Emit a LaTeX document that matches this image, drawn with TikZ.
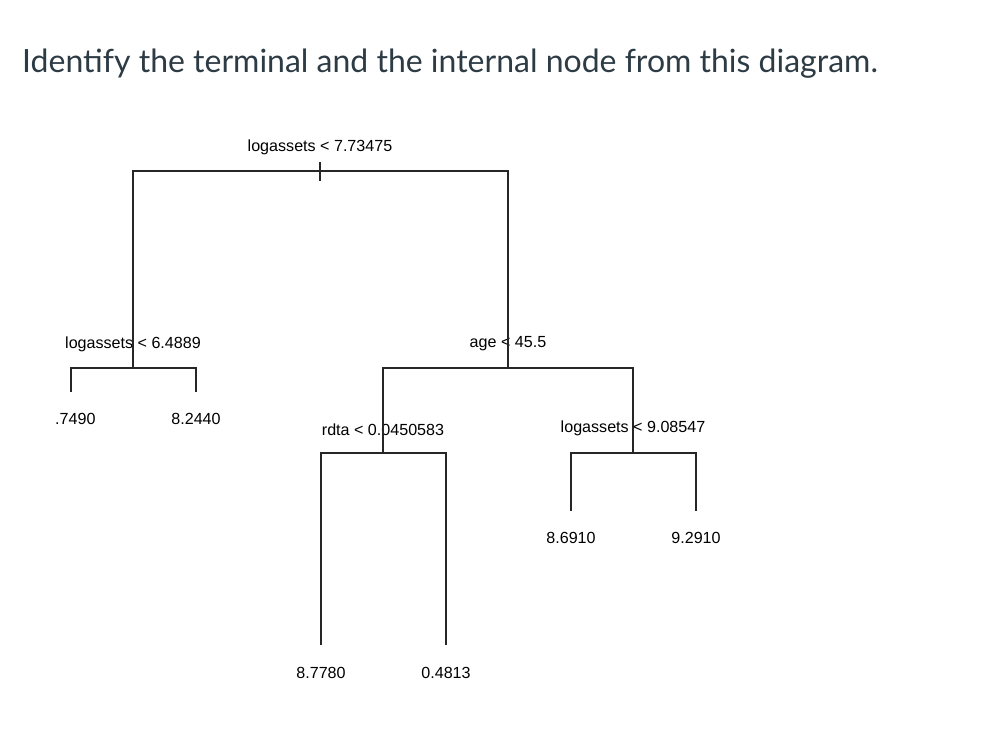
\documentclass[tikz,border=0pt]{standalone}
\usepackage{fontspec}
\setmainfont{Liberation Sans}
\newfontfamily\titlefont{Lato}
\usepackage{tikz}
\usetikzlibrary{calc}
\definecolor{titlegray}{HTML}{2D3B45}

\begin{document}
\begin{tikzpicture}[x=1pt,y=-1pt,
  branch/.style={black!85, line width=1.3pt},
  splitlab/.style={inner sep=0pt, font=\fontsize{16.1}{18}\selectfont},
  leaflab/.style={inner sep=0pt, font=\fontsize{16.1}{18}\selectfont}]
\useasboundingbox (0,0) rectangle (1008,730);
\node[anchor=base west, inner sep=0pt, text=titlegray, font=\titlefont\fontsize{32}{38}\selectfont] (title) at (22,73) {Identify the terminal and the internal node from this diagram.};
% split points and leaf ends
\coordinate (top) at (320,171);
\coordinate (s1) at (133,368);
\coordinate (s2) at (508,368);
\coordinate (s3) at (383,453);
\coordinate (s4) at (633,453);
\coordinate (l1) at (71,392);
\coordinate (l2) at (196,392);
\coordinate (l3) at (321,645);
\coordinate (l4) at (446,645);
\coordinate (l5) at (571,511);
\coordinate (l6) at (696,511);
% labels
\node[splitlab] (t0) at (320,147) {logassets < 7.73475};
\node[splitlab] (t1) at (133,344) {logassets < 6.4889};
\node[splitlab] (t2) at (508,344) {age < 45.5};
\node[splitlab] (t3) at (383,430) {rdta < 0.0450583};
\node[splitlab] (t4) at (633,428) {logassets < 9.08547};
\node[leaflab, anchor=west] (v1) at (55,419) {.7490};
\node[leaflab] (v2) at (196,419) {8.2440};
\node[leaflab] (v3) at (321,673) {8.7780};
\node[leaflab] (v4) at (446,673) {0.4813};
\node[leaflab] (v5) at (571,538) {8.6910};
\node[leaflab] (v6) at (696,538) {9.2910};
% branches
\draw[branch] (s1) |- (top) -| (s2);
\draw[branch] ($(top)+(0,-9)$) -- ($(top)+(0,10)$);
\draw[branch] (l1) |- (s1) -| (l2);
\draw[branch] (s3) |- (s2) -| (s4);
\draw[branch] (l3) |- (s3) -| (l4);
\draw[branch] (l5) |- (s4) -| (l6);
\end{tikzpicture}
\end{document}
